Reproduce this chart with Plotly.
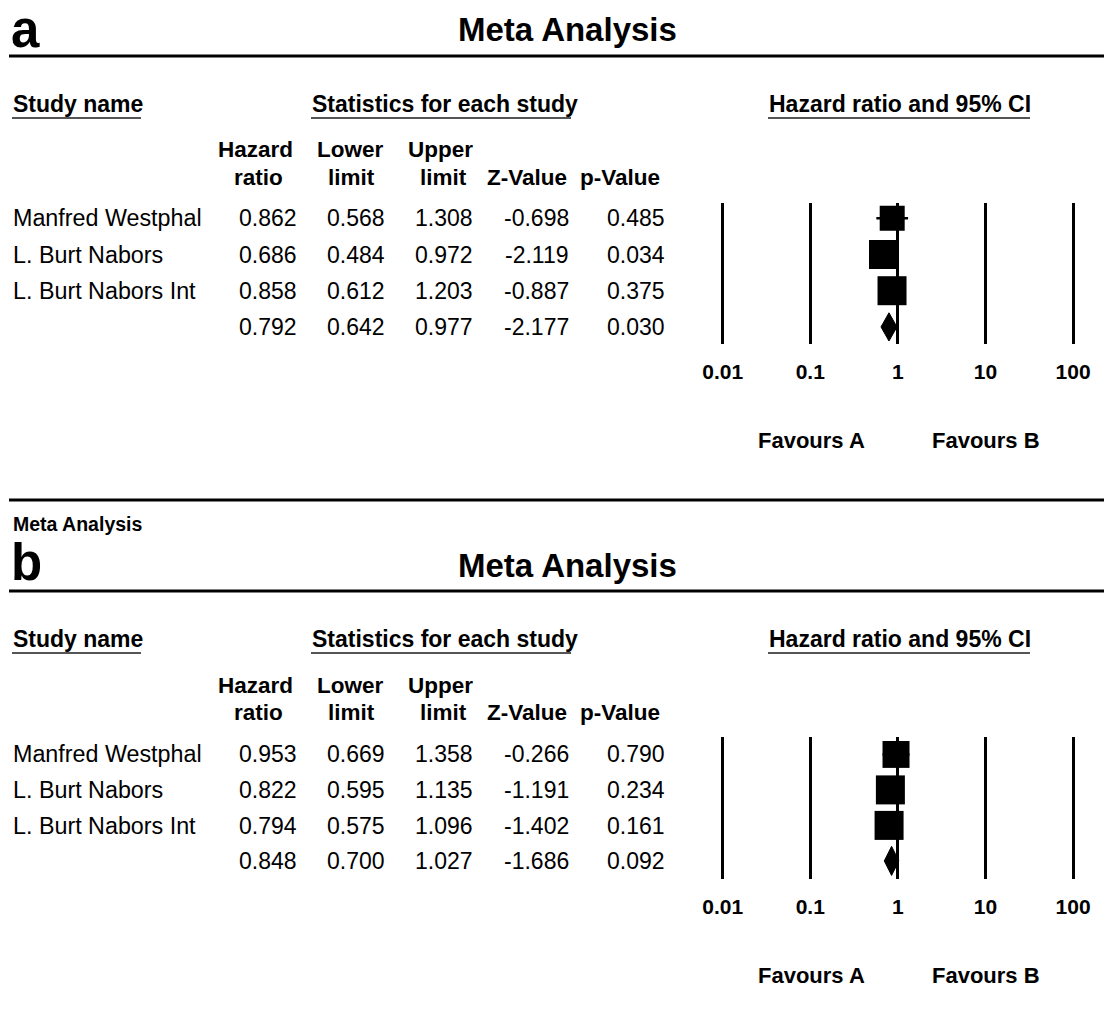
import plotly.graph_objects as go

# ---------------- data ----------------
study_names = ["Manfred Westphal", "L. Burt Nabors", "L. Burt Nabors Int", ""]

hr_a = [0.862, 0.686, 0.858, 0.792]
lower_a = [0.568, 0.484, 0.612, 0.642]
upper_a = [1.308, 0.972, 1.203, 0.977]
z_a = [-0.698, -2.119, -0.887, -2.177]
p_a = [0.485, 0.034, 0.375, 0.030]

hr_b = [0.953, 0.822, 0.794, 0.848]
lower_b = [0.669, 0.595, 0.575, 0.700]
upper_b = [1.358, 1.135, 1.096, 1.027]
z_b = [-0.266, -1.191, -1.402, -1.686]
p_b = [0.790, 0.234, 0.161, 0.092]

tick_vals = [0.01, 0.1, 1, 10, 100]
tick_labels = ["0.01", "0.1", "1", "10", "100"]

# ---------------- style / layout ----------------
W, H = 1104, 1030
FONT = "Liberation Sans, Arial, sans-serif"

panels = [
    dict(letter="a", off=0, hr=hr_a, lo=lower_a, up=upper_a, z=z_a, p=p_a,
         sizes=[25, 29, 29], rows_px=[218, 255, 291, 327],
         plot_px=(203, 344), yrange=[3.472, -0.423], dh=0.39),
    dict(letter="b", off=535, hr=hr_b, lo=lower_b, up=upper_b, z=z_b, p=p_b,
         sizes=[27, 29, 29], rows_px=[754, 790, 826, 861],
         plot_px=(737, 879), yrange=[3.51, -0.49], dh=0.41),
]

fig = go.Figure()


def px(x):
    return x / W


def py(y):
    return 1 - y / H


def txt(x, y, s, size, bold=False, xanchor="left", yanchor="middle", color="black"):
    fig.add_annotation(x=px(x), y=py(y), xref="paper", yref="paper", text=s,
                       showarrow=False, xanchor=xanchor, yanchor=yanchor,
                       borderpad=0,
                       font=dict(family=FONT, size=size, color=color,
                                 weight="bold" if bold else "normal"))


def hline(x0, x1, y, width, color="black"):
    fig.add_shape(type="line", xref="paper", yref="paper",
                  x0=px(x0), x1=px(x1), y0=py(y), y1=py(y),
                  line=dict(color=color, width=width))


x_dom = [713.9 / W, 1081.8 / W]

for i, P in enumerate(panels):
    o = P["off"]
    xa = "x" if i == 0 else "x2"
    ya = "y" if i == 0 else "y2"
    xk = "xaxis" if i == 0 else "xaxis2"
    yk = "yaxis" if i == 0 else "yaxis2"

    # header
    if o == 0:
        txt(10, 0, P["letter"], 51, bold=True, yanchor="top")
    else:
        txt(10, 562, P["letter"], 51, bold=True)
    txt(567, 30 + o, "Meta Analysis", 33, bold=True, xanchor="center")
    hline(9, W, 56 + o, 3)

    txt(12, 104 + o, "Study name", 23, bold=True)
    txt(311, 104 + o, "Statistics for each study", 23, bold=True)
    txt(768, 104 + o, "Hazard ratio and 95% CI", 23, bold=True)
    hline(12, 141, 118 + o, 2, "#555")
    hline(311, 571, 118 + o, 2, "#555")
    hline(768, 1030, 118 + o, 2, "#555")

    head1 = [("Hazard", 255), ("Lower", 350), ("Upper", 440)]
    head2 = [("ratio", 258), ("limit", 352), ("limit", 443), ("Z-Value", 527), ("p-Value", 620)]
    for s, x in head1:
        txt(x, 150 + o, s, 22.5, bold=True, xanchor="center")
    for s, x in head2:
        txt(x, 177 + o, s, 22.5, bold=True, xanchor="center")

    # table rows
    col_right = [298, 386, 474, 570, 666]
    for r in range(4):
        y = P["rows_px"][r]
        if study_names[r]:
            txt(12, y, study_names[r], 23.3)
        vals = [P["hr"][r], P["lo"][r], P["up"][r], P["z"][r], P["p"][r]]
        for v, xr in zip(vals, col_right):
            txt(xr, y, f"{v:.3f}", 23, xanchor="right")

    txt(811, 440 + o, "Favours A", 22, bold=True, xanchor="center")
    txt(986, 440 + o, "Favours B", 22, bold=True, xanchor="center")

    # forest plot: individual studies
    n = 3
    rows = list(range(n))
    fig.add_trace(go.Scatter(
        x=P["hr"][:n], y=rows, mode="markers", xaxis=xa, yaxis=ya,
        marker=dict(symbol="square", size=P["sizes"], color="black",
                    opacity=1, line=dict(width=0)),
        error_x=dict(type="data", symmetric=False,
                     array=[u - h for u, h in zip(P["up"][:n], P["hr"][:n])],
                     arrayminus=[h - l for h, l in zip(P["hr"][:n], P["lo"][:n])],
                     thickness=2.5, width=0, color="black"),
        showlegend=False, hoverinfo="skip"))
    # summary diamond
    h, l, u = P["hr"][3], P["lo"][3], P["up"][3]
    d = P["dh"]
    fig.add_trace(go.Scatter(
        x=[l, h, u, h, l], y=[3, 3 - d, 3, 3 + d, 3], mode="lines",
        fill="toself", fillcolor="black", line=dict(color="black", width=1),
        xaxis=xa, yaxis=ya, showlegend=False, hoverinfo="skip"))

    top, bot = P["plot_px"]
    fig.layout[xk] = dict(
        type="log", range=[-2.1, 2.1], domain=x_dom, anchor=ya,
        tickvals=tick_vals, ticktext=tick_labels,
        showgrid=True, gridcolor="black", gridwidth=2.7,
        showline=False, zeroline=False, ticks="outside", ticklen=9,
        tickcolor="rgba(0,0,0,0)", automargin=False,
        tickfont=dict(family=FONT, size=21, color="black", weight="bold"),
        fixedrange=True)
    fig.layout[yk] = dict(
        domain=[py(bot), py(top)], range=P["yrange"], anchor=xa,
        visible=False, showgrid=False, zeroline=False, automargin=False,
        fixedrange=True)

# separator between panels and small caption
hline(9, W, 500, 3)
txt(12, 524, "Meta Analysis", 19.5, bold=True)

fig.update_layout(width=W, height=H,
                  margin=dict(l=0, r=0, t=0, b=0, pad=0, autoexpand=False),
                  paper_bgcolor="white", plot_bgcolor="white",
                  showlegend=False)

fig.write_html("out.html", config={"displayModeBar": False},
               post_script="document.body.style.margin='0';"
                           "document.documentElement.style.overflow='hidden';")
